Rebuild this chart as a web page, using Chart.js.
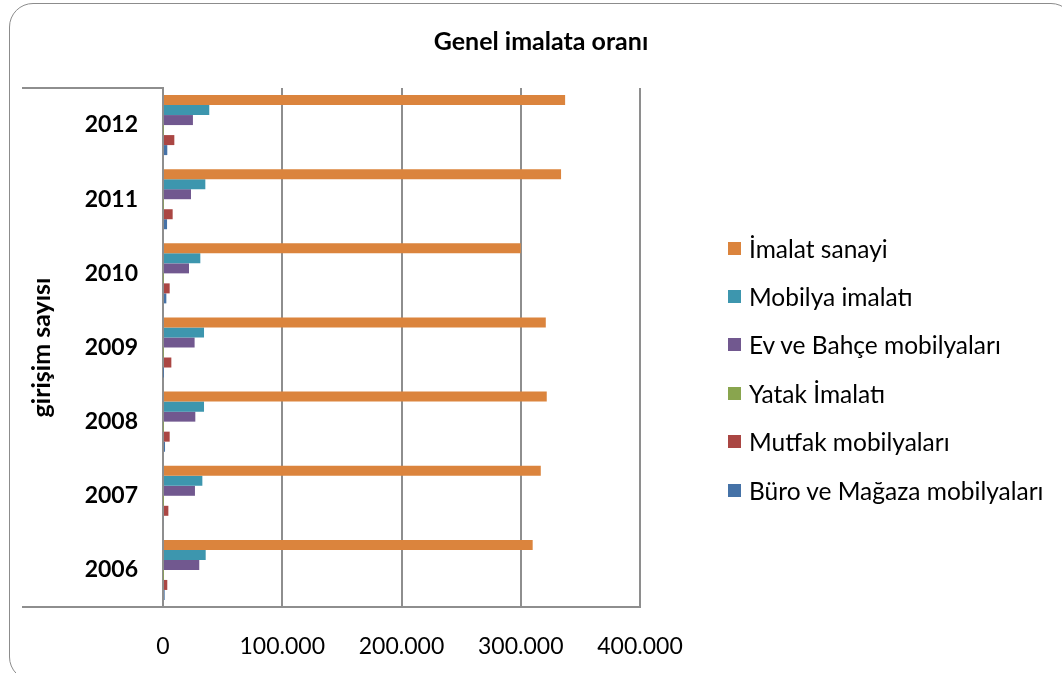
<!DOCTYPE html>
<html>
<head>
<meta charset="utf-8">
<script src="https://cdn.jsdelivr.net/npm/chart.js@4/dist/chart.umd.min.js"></script>
<style>
    html, body { margin: 0; padding: 0; background: #fff; overflow: hidden; }
    #wrap { position: relative; width: 1062px; height: 673px; }
    #frame { position: absolute; left: 9px; top: 3px; width: 1064px; height: 676px; border: 1.5px solid #8c8c8c; border-radius: 24px; }
    #chart { position: absolute; left: 0; top: 0; }
    #legend { position: absolute; left: 728px; top: 224px; margin: 0; padding: 0; list-style: none; font-family: Lato, sans-serif; font-size: 24.5px; color: #000; }
    #legend li { display: flex; align-items: center; height: 48.4px; white-space: nowrap; }
    #legend .box { width: 13px; height: 13px; margin-right: 8px; flex: none; }
</style>
</head>
<body>
<div id="wrap">
    <div id="frame"></div>
    <canvas id="chart" width="1062" height="673"></canvas>
    <ul id="legend"></ul>
</div>
<script>
const years = ['2012', '2011', '2010', '2009', '2008', '2007', '2006'];
const seriesNames = ['İmalat sanayi', 'Mobilya imalatı', 'Ev ve Bahçe mobilyaları', 'Yatak İmalatı', 'Mutfak mobilyaları', 'Büro ve Mağaza mobilyaları'];
const imalatSanayi = [337200, 333800, 300000, 321000, 321800, 316800, 310000];
const mobilyaImalati = [38800, 35500, 31300, 34400, 34400, 33000, 35800];
const evBahce = [25100, 23500, 21800, 26500, 27100, 26800, 30400];
const yatak = [350, 350, 300, 300, 300, 250, 250];
const mutfak = [9500, 8100, 5600, 7000, 5600, 4500, 3600];
const buroMagaza = [3600, 3400, 2800, 200, 1700, 800, 1400];
const xTicks = [0, 100000, 200000, 300000, 400000];

const colors = ['#DB843D', '#3D96AE', '#71588F', '#89A54E', '#AA4643', '#4572A7'];
const gridColor = '#8e8e8e';

Chart.defaults.font.family = 'Lato';

function fmt(v) {
    return String(v).replace(/\B(?=(\d{3})+(?!\d))/g, '.');
}

const values = [imalatSanayi, mobilyaImalati, evBahce, yatak, mutfak, buroMagaza];

// lines of the outer category level (top and bottom, running left of the axis)
const categoryFrame = {
    id: 'categoryFrame',
    afterDraw(chart) {
        const { ctx, chartArea, scales } = chart;
        const x0 = scales.y.left - 12;
        ctx.save();
        ctx.strokeStyle = gridColor;
        ctx.lineWidth = 2;
        ctx.beginPath();
        ctx.moveTo(x0, chartArea.top);
        ctx.lineTo(chartArea.left, chartArea.top);
        ctx.moveTo(x0, chartArea.bottom);
        ctx.lineTo(chartArea.left, chartArea.bottom);
        ctx.stroke();
        ctx.restore();
    }
};

// legend as html, built from the chart's own legend items
const htmlLegend = {
    id: 'htmlLegend',
    afterUpdate(chart) {
        const list = document.getElementById('legend');
        const items = chart.options.plugins.legend.labels.generateLabels(chart);
        list.innerHTML = items.map(item => `
            <li><span class="box" style="background:${item.fillStyle}"></span>${item.text}</li>
        `).join('');
    }
};

new Chart(document.getElementById('chart'), {
    type: 'bar',
    data: {
        labels: years,
        datasets: seriesNames.map((name, i) => ({
            label: name,
            data: values[i],
            backgroundColor: colors[i],
            borderWidth: 0,
            categoryPercentage: 0.81,
            barPercentage: 1
        }))
    },
    options: {
        indexAxis: 'y',
        responsive: false,
        animation: false,
        layout: { padding: { left: 34, right: 14, top: 0, bottom: 0 } },
        scales: {
            x: {
                min: 0,
                max: 400000,
                afterBuildTicks: s => { s.ticks = xTicks.map(v => ({ value: v })); },
                ticks: { padding: 26, color: '#000', font: { size: 23 }, callback: v => fmt(v) },
                grid: { color: gridColor, lineWidth: 2, drawTicks: false },
                border: { color: gridColor, width: 2 },
                afterFit: s => { s.height = 66; }
            },
            y: {
                grid: { display: false, drawTicks: false },
                border: { color: gridColor, width: 2 },
                ticks: { padding: 25, color: '#000', font: { size: 23, weight: 'bold' } },
                title: {
                    display: true, text: 'girişim sayısı', color: '#000', padding: 0,
                    font: { size: 25, weight: 'bold', lineHeight: 0.6 }
                },
                afterFit: s => { s.width = 129; }
            },
            // empty space that holds the legend column
            gap: {
                position: 'right',
                grid: { display: false },
                border: { display: false },
                ticks: { display: false },
                afterFit: s => { s.width = 408; }
            }
        },
        plugins: {
            title: {
                display: true,
                text: 'Genel imalata oranı',
                color: '#000',
                font: { size: 25, weight: 'bold' },
                padding: { top: 27, bottom: 31 }
            },
            legend: { display: false },
            tooltip: { enabled: false }
        }
    },
    plugins: [categoryFrame, htmlLegend]
});
</script>
</body>
</html>
